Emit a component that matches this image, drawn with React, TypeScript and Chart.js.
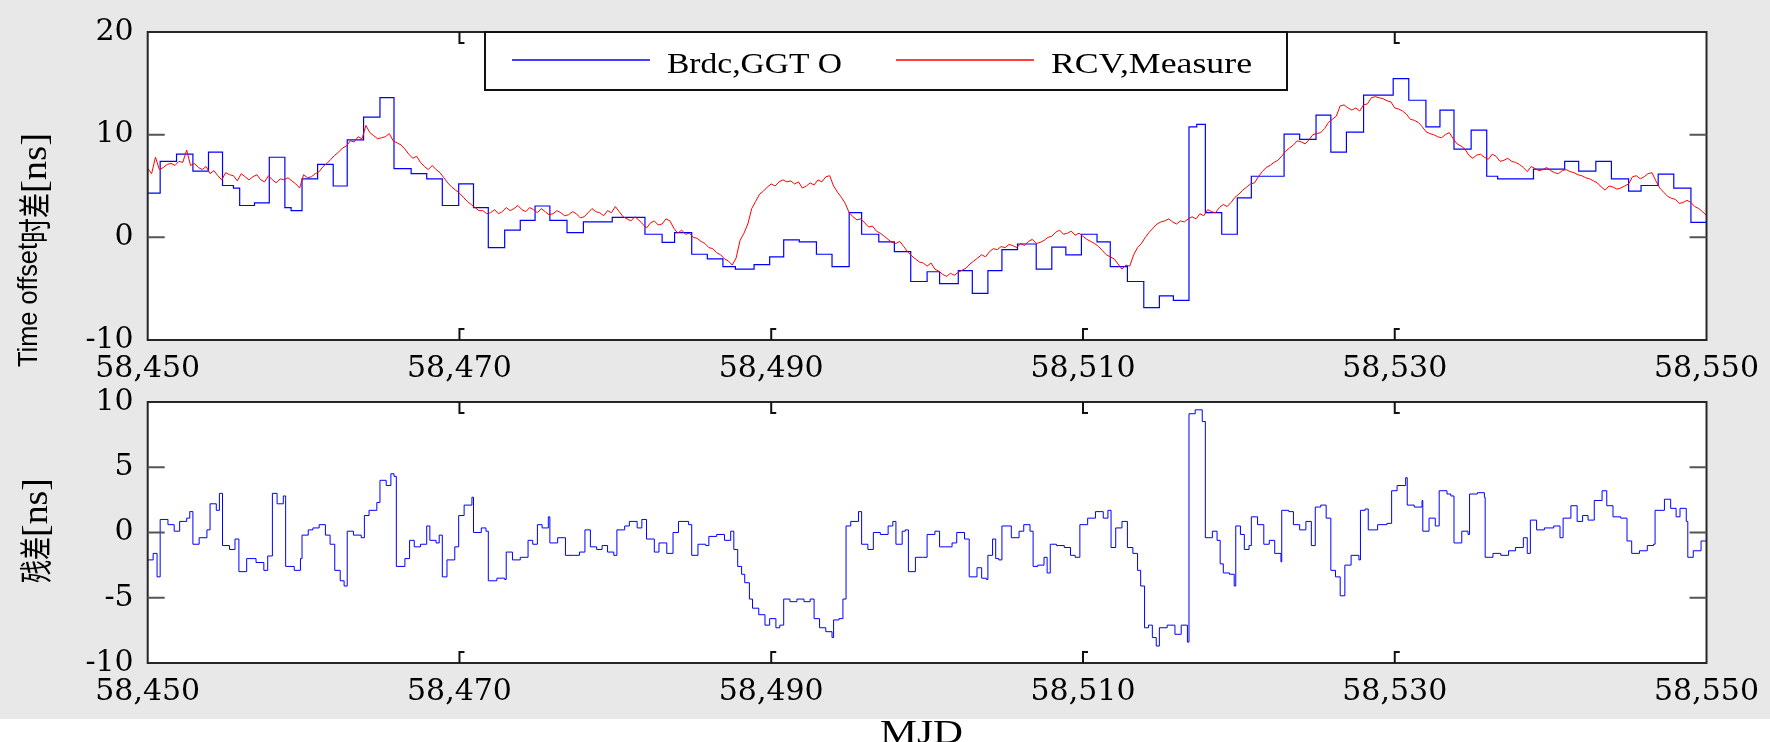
import React, { useEffect, useRef } from "react";
import { Chart, registerables } from "chart.js";

Chart.register(...registerables);

// ---------------- data (MJD offsets from MJD_BASE) ----------------
const MJD_BASE = 58450;
const X_MIN = 58450;
const X_MAX = 58550;
const X_STEP = 20;

const LEGEND_LABELS = ["Brdc,GGT O", "RCV,Measure"];

// Broadcast GGTO (step series): day at which each step starts, and its level [ns]
const BRDC_DAYS = [0, 0.8, 1.85, 2.9, 3.9, 4.8, 5.5, 5.9, 6.85, 7.8, 8.8, 9.2, 9.9, 10.9, 11.9, 12.8, 13.85, 14.9, 15.8, 16.9, 17.9, 18.9, 19.95, 20.9, 21.85, 22.9, 23.9, 24.85, 25.8, 26.9, 27.95, 29.8, 31.9, 33.0, 33.8, 34.9, 35.9, 36.9, 37.7, 38.9, 39.9, 40.8, 41.8, 42.9, 43.9, 45.0, 45.8, 46.9, 47.9, 48.95, 50.0, 50.8, 52.0, 52.9, 53.9, 54.8, 55.8, 57.0, 58.0, 58.9, 59.9, 60.9, 61.75, 62.85, 63.9, 64.9, 65.8, 66.8, 67.3, 67.85, 68.9, 69.9, 70.8, 72.9, 73.9, 74.95, 75.9, 76.9, 78.0, 79.9, 80.9, 82.0, 82.9, 83.8, 84.9, 85.9, 86.6, 88.9, 90.9, 91.8, 92.9, 93.9, 95.0, 95.8, 96.9, 97.9, 99.0, 100];
const BRDC_VALUES = [4.3, 7.4, 8.1, 6.45, 8.3, 5.05, 4.8, 3.1, 3.35, 7.8, 2.9, 2.6, 5.7, 7.1, 5.0, 9.5, 11.7, 13.6, 6.7, 6.2, 5.7, 3.1, 5.2, 2.9, -1.0, 0.7, 1.65, 3.05, 1.65, 0.45, 1.5, 1.95, 0.3, -0.5, 0.45, -1.65, -2.1, -2.85, -3.1, -2.65, -1.9, -0.25, -0.45, -1.65, -2.85, 2.4, 0.3, -0.45, -1.4, -4.3, -3.35, -4.5, -3.25, -5.45, -3.25, -1.2, -0.65, -3.1, -0.95, -1.7, 0.3, -0.45, -2.85, -4.3, -6.85, -5.7, -6.15, 10.75, 11.0, 2.4, 0.3, 3.85, 5.95, 10.05, 9.55, 11.9, 8.3, 10.25, 13.85, 15.45, 13.35, 10.75, 12.4, 8.6, 10.45, 5.95, 5.7, 6.65, 7.4, 6.45, 7.4, 5.7, 4.5, 5.05, 6.15, 4.8, 1.45, 1.45];

// Receiver measurement (RCV,Measure) [ns], quarter-day readings
const RCV_DAYS = [
  0, 0.25, 0.5, 0.75, 1, 1.25, 1.5, 1.75, 2, 2.25, 2.5, 2.75, 3, 3.25, 3.5, 3.75, 4, 4.25, 4.5, 4.75,
  5, 5.25, 5.5, 5.75, 6, 6.25, 6.5, 6.75, 7, 7.25, 7.5, 7.75, 8, 8.25, 8.5, 8.75, 9, 9.25, 9.5, 9.75,
  10, 10.25, 10.5, 10.75, 11, 11.25, 11.5, 11.75, 12, 12.25, 12.5, 12.75, 13, 13.25, 13.5, 13.75, 14, 14.25, 14.5, 14.75,
  15, 15.25, 15.5, 15.75, 16, 16.25, 16.5, 16.75, 17, 17.25, 17.5, 17.75, 18, 18.25, 18.5, 18.75, 19, 19.25, 19.5, 19.75,
  20, 20.25, 20.5, 20.75, 21, 21.25, 21.5, 21.75, 22, 22.25, 22.5, 22.75, 23, 23.25, 23.5, 23.75, 24, 24.25, 24.5, 24.75,
  25, 25.25, 25.5, 25.75, 26, 26.25, 26.5, 26.75, 27, 27.25, 27.5, 27.75, 28, 28.25, 28.5, 28.75, 29, 29.25, 29.5, 29.75,
  30, 30.25, 30.5, 30.75, 31, 31.25, 31.5, 31.75, 32, 32.25, 32.5, 32.75, 33, 33.25, 33.5, 33.75, 34, 34.25, 34.5, 34.75,
  35, 35.25, 35.5, 35.75, 36, 36.25, 36.5, 36.75, 37, 37.25, 37.5, 37.75, 38, 38.25, 38.5, 38.75, 39, 39.25, 39.5, 39.75,
  40, 40.25, 40.5, 40.75, 41, 41.25, 41.5, 41.75, 42, 42.25, 42.5, 42.75, 43, 43.25, 43.5, 43.75, 44, 44.25, 44.5, 44.75,
  45, 45.25, 45.5, 45.75, 46, 46.25, 46.5, 46.75, 47, 47.25, 47.5, 47.75, 48, 48.25, 48.5, 48.75, 49, 49.25, 49.5, 49.75,
  50, 50.25, 50.5, 50.75, 51, 51.25, 51.5, 51.75, 52, 52.25, 52.5, 52.75, 53, 53.25, 53.5, 53.75, 54, 54.25, 54.5, 54.75,
  55, 55.25, 55.5, 55.75, 56, 56.25, 56.5, 56.75, 57, 57.25, 57.5, 57.75, 58, 58.25, 58.5, 58.75, 59, 59.25, 59.5, 59.75,
  60, 60.25, 60.5, 60.75, 61, 61.25, 61.5, 61.75, 62, 62.25, 62.5, 62.75, 63, 63.25, 63.5, 63.75, 64, 64.25, 64.5, 64.75,
  65, 65.25, 65.5, 65.75, 66, 66.25, 66.5, 66.75, 67, 67.25, 67.5, 67.75, 68, 68.25, 68.5, 68.75, 69, 69.25, 69.5, 69.75,
  70, 70.25, 70.5, 70.75, 71, 71.25, 71.5, 71.75, 72, 72.25, 72.5, 72.75, 73, 73.25, 73.5, 73.75, 74, 74.25, 74.5, 74.75,
  75, 75.25, 75.5, 75.75, 76, 76.25, 76.5, 76.75, 77, 77.25, 77.5, 77.75, 78, 78.25, 78.5, 78.75, 79, 79.25, 79.5, 79.75,
  80, 80.25, 80.5, 80.75, 81, 81.25, 81.5, 81.75, 82, 82.25, 82.5, 82.75, 83, 83.25, 83.5, 83.75, 84, 84.25, 84.5, 84.75,
  85, 85.25, 85.5, 85.75, 86, 86.25, 86.5, 86.75, 87, 87.25, 87.5, 87.75, 88, 88.25, 88.5, 88.75, 89, 89.25, 89.5, 89.75,
  90, 90.25, 90.5, 90.75, 91, 91.25, 91.5, 91.75, 92, 92.25, 92.5, 92.75, 93, 93.25, 93.5, 93.75, 94, 94.25, 94.5, 94.75,
  95, 95.25, 95.5, 95.75, 96, 96.25, 96.5, 96.75, 97, 97.25, 97.5, 97.75, 98, 98.25, 98.5, 98.75, 99, 99.25, 99.5, 99.75,
  100,
];
const RCV_VALUES = [
  6.7, 6.2, 7.8, 6.6, 6.8, 7.1, 7.2, 7.0, 7.4, 7.3, 8.5, 7.0, 7.2, 6.8, 6.6, 6.9, 6.2, 6.5, 6.0, 5.6,
  6.3, 6.1, 6.0, 5.5, 6.2, 5.9, 5.6, 5.9, 6.1, 5.6, 5.4, 6.0, 5.6, 5.3, 5.7, 5.6, 5.8, 5.5, 5.2, 4.8,
  6.1, 5.8, 5.9, 6.2, 6.4, 6.9, 7.2, 7.6, 8.0, 8.3, 8.7, 8.9, 9.4, 9.3, 9.8, 9.6, 10.9, 10.2, 9.9, 9.6,
  9.7, 9.8, 10.1, 9.4, 9.2, 9.0, 8.6, 8.1, 7.7, 7.9, 7.3, 6.9, 6.6, 7.0, 6.6, 6.3, 5.8, 5.3, 4.9, 4.6,
  4.3, 3.9, 3.5, 3.2, 2.9, 2.6, 2.6, 2.3, 2.4, 2.7, 2.3, 2.5, 2.9, 2.6, 2.8, 3.1, 2.7, 2.5, 2.9, 2.7,
  2.4, 2.8, 2.5, 2.2, 2.3, 2.6, 2.4, 2.1, 2.2, 2.5, 2.3, 1.9, 2.0, 2.4, 2.8, 2.5, 2.4, 2.1, 2.6, 2.4,
  3.0, 2.5, 2.0, 1.8, 1.6, 2.0, 1.7, 1.3, 0.9, 1.4, 1.6, 1.2, 1.3, 1.8, 1.6, 0.9, 0.4, 0.7, 0.3, 0.4,
  0.0, -0.1, -0.4, -0.6, -1.0, -1.1, -1.5, -1.7, -2.1, -2.3, -2.7, -2.0, -0.3, 0.4, 1.3, 2.8, 3.5, 4.2, 4.5, 4.9,
  5.2, 5.0, 5.4, 5.6, 5.4, 5.5, 5.2, 5.4, 4.8, 5.0, 5.3, 5.1, 5.6, 5.4, 5.9, 6.0, 5.0, 4.4, 3.9, 3.3,
  2.4, 2.0, 1.7, 1.8, 1.4, 1.0, 1.1, 0.6, 0.4, 0.1, -0.2, -0.5, -0.6, -0.4, -0.9, -1.4, -1.8, -2.1, -2.4, -2.5,
  -2.8, -2.5, -3.1, -3.3, -3.6, -3.8, -3.5, -3.7, -3.4, -3.2, -3.0, -2.6, -2.3, -2.0, -1.7, -1.9, -1.4, -1.1, -1.2, -0.9,
  -1.0, -0.7, -0.8, -1.0, -0.6, -0.8, -0.4, -0.2, -0.6, -0.5, -0.3, 0.0, 0.1, 0.5, 0.7, 0.3, 0.4, 0.6, 0.2, 0.4,
  0.1, -0.2, -0.4, -0.6, -0.9, -1.3, -1.7, -1.9, -2.1, -2.6, -3.1, -2.7, -2.8, -1.7, -1.0, -0.6, 0.0, 0.5, 0.9, 1.3,
  1.5, 1.6, 1.8, 1.5, 1.3, 1.6, 1.5, 1.8, 2.0, 1.8, 2.3, 2.1, 2.7, 2.5, 2.4, 2.9, 3.2, 3.0, 3.4, 3.9,
  4.2, 4.6, 4.9, 5.2, 5.3, 5.9, 6.4, 6.8, 7.0, 7.3, 7.5, 7.9, 8.4, 8.7, 9.0, 9.4, 9.3, 9.1, 9.5, 10.0,
  10.1, 10.2, 10.6, 11.2, 11.5, 11.8, 12.8, 12.9, 12.6, 12.4, 12.6, 12.3, 12.9, 13.0, 13.6, 13.7, 13.6, 13.5, 13.3, 13.2,
  12.6, 12.5, 12.3, 12.0, 11.5, 11.4, 11.2, 10.8, 10.3, 10.1, 10.0, 9.8, 9.7, 10.0, 10.2, 9.6, 9.1, 8.9, 8.6, 8.0,
  7.7, 8.0, 8.1, 7.8, 7.6, 8.1, 7.9, 7.4, 7.5, 7.7, 7.4, 7.3, 7.1, 6.8, 6.4, 6.9, 6.7, 6.5, 6.6, 6.8,
  6.5, 6.3, 6.2, 6.5, 6.6, 6.4, 6.3, 6.1, 6.0, 5.8, 5.7, 5.5, 5.3, 4.9, 4.6, 5.0, 4.9, 4.7, 4.8, 5.0,
  5.2, 5.9, 6.0, 5.7, 5.9, 6.2, 6.3, 5.5, 4.8, 4.4, 4.0, 3.8, 3.7, 3.3, 3.4, 3.6, 3.4, 3.0, 2.8, 2.5,
  2.1,
];

// Residual [ns]
const RESID_DAYS = [0, 0.35, 0.6, 0.8, 1.3, 1.7, 2.05, 2.5, 2.7, 2.9, 3.3, 3.8, 4.0, 4.4, 4.6, 4.8, 5.25, 5.6, 5.85, 6.35, 6.95, 7.45, 7.7, 8.0, 8.3, 8.7, 8.85, 9.4, 9.8, 9.9, 10.3, 10.6, 11.0, 11.4, 11.7, 12.0, 12.35, 12.6, 12.8, 13.2, 13.7, 13.9, 14.2, 14.7, 14.9, 15.3, 15.6, 15.8, 15.95, 16.5, 16.8, 17.1, 17.5, 17.9, 18.1, 18.5, 18.7, 18.9, 19.2, 19.7, 19.95, 20.3, 20.8, 20.9, 21.4, 21.7, 21.85, 22.4, 22.9, 23.0, 23.4, 23.9, 24.4, 24.7, 25.0, 25.3, 25.7, 25.8, 26.3, 26.8, 27.3, 27.7, 28.05, 28.4, 28.8, 29.15, 29.5, 29.9, 30.1, 30.6, 30.9, 31.4, 31.7, 32.0, 32.5, 32.8, 33.3, 33.7, 34.05, 34.7, 34.9, 35.3, 35.8, 36.0, 36.5, 37.0, 37.4, 37.6, 37.85, 38.1, 38.3, 38.6, 38.8, 39.2, 39.6, 39.9, 40.3, 40.55, 40.8, 41.2, 41.65, 42.1, 42.5, 42.75, 43.1, 43.5, 43.9, 44.0, 44.35, 44.6, 44.8, 45.1, 45.6, 45.8, 46.2, 46.55, 47.0, 47.5, 47.8, 48.0, 48.4, 48.6, 48.8, 49.25, 49.7, 50.0, 50.5, 50.8, 51.2, 51.6, 51.9, 52.4, 52.7, 53.2, 53.5, 53.8, 53.9, 54.2, 54.4, 54.6, 54.8, 55.4, 55.9, 56.2, 56.6, 56.8, 57.1, 57.5, 57.7, 57.9, 58.3, 58.8, 59.2, 59.5, 59.8, 60.3, 60.8, 61.3, 61.6, 61.8, 62.1, 62.5, 62.85, 63.2, 63.5, 63.7, 63.95, 64.2, 64.45, 64.7, 64.9, 65.4, 65.9, 66.3, 66.7, 66.8, 67.2, 67.65, 67.85, 68.3, 68.6, 68.8, 69.0, 69.4, 69.7, 69.8, 70.1, 70.35, 70.65, 70.8, 71.2, 71.6, 71.95, 72.3, 72.7, 72.75, 73.2, 73.5, 73.9, 74.3, 74.65, 74.9, 75.25, 75.6, 75.9, 76.2, 76.5, 76.8, 77.2, 77.7, 77.8, 78.1, 78.3, 78.9, 79.5, 79.8, 80.15, 80.7, 80.8, 81.25, 81.75, 81.8, 82.2, 82.6, 82.85, 83.35, 83.6, 83.8, 84.3, 84.7, 84.8, 85.3, 85.75, 85.8, 86.3, 86.8, 87.3, 87.75, 88.25, 88.5, 88.7, 89.1, 89.6, 90.2, 90.6, 90.8, 91.3, 91.7, 92.05, 92.4, 92.8, 93.3, 93.6, 94.0, 94.5, 94.9, 95.2, 95.7, 96.2, 96.6, 96.7, 97.3, 97.7, 98.05, 98.3, 98.7, 98.8, 99.15, 99.65, 100];
const RESID_VALUES = [-2.1, -1.6, -3.4, 1.0, 0.6, 0.1, 0.85, 1.1, 1.6, -0.9, -0.4, 0.2, 2.2, 1.7, 3.0, -1.0, -1.3, -0.5, -3.0, -2.0, -2.3, -2.9, -1.8, 3.0, 2.2, 2.8, -2.6, -2.9, -2.0, -0.2, 0.2, 0.35, 0.6, -0.2, -0.9, -2.9, -3.7, -4.1, 0.1, -0.2, -0.4, 1.3, 1.7, 2.3, 4.0, 3.6, 4.5, 4.3, -2.6, -2.0, -0.6, -1.1, -0.9, 0.5, -0.6, -0.8, -0.2, -3.4, -2.1, -1.1, 1.3, 2.1, 2.7, 0.0, 0.35, 0.1, -3.7, -3.5, -3.6, -1.5, -2.1, -1.9, -0.6, -0.9, 0.6, 0.35, 1.2, -0.8, -0.4, -1.75, -1.75, -1.5, 0.2, -1.1, -1.3, -1.0, -1.5, -1.75, 0.2, 0.5, 0.85, 0.35, 1.0, -0.5, -1.5, -0.8, -1.6, 0.0, 0.85, 0.6, -1.75, -0.9, -1.0, -0.3, -0.15, -0.6, 0.1, -1.3, -2.6, -3.2, -3.85, -5.1, -5.8, -6.3, -7.1, -6.6, -7.3, -7.1, -5.1, -5.3, -5.1, -5.3, -5.1, -6.6, -7.3, -7.6, -8.05, -6.7, -6.6, -5.1, 0.5, 0.85, 1.6, -0.9, -1.3, 0.0, -0.15, 0.5, 0.85, -0.9, 0.1, 0.2, -3.0, -1.9, -1.9, -0.15, 0.1, -1.1, -1.1, -0.8, 0.0, -0.5, -3.4, -2.7, -3.5, -3.6, -1.75, -0.5, -2.0, -2.1, 0.5, -0.4, 0.1, 0.6, 0.1, -2.6, -2.5, -1.9, -3.1, -0.9, -1.0, -1.15, -1.75, -1.9, 0.6, 1.1, 1.6, 1.1, 1.7, -1.15, 0.35, 0.85, -1.15, -1.6, -2.9, -4.1, -7.3, -7.1, -8.05, -8.7, -7.3, -7.1, -7.8, -7.1, -8.4, 9.1, 9.4, 8.5, -0.4, 0.1, -0.6, -2.4, -3.1, -3.2, -4.1, 0.5, -0.15, -1.3, -1.0, 1.2, 0.6, -0.9, -0.6, -1.6, -2.25, 1.7, 1.6, 0.6, 0.2, 0.85, -1.0, 1.95, 2.1, 1.1, -2.9, -3.4, -4.85, -2.5, -1.75, -2.1, 1.7, 1.8, 0.2, 0.6, 0.7, 3.2, 3.6, 4.2, 2.1, 1.95, 2.45, 0.1, 1.1, 0.5, 3.2, 2.95, 2.8, -0.8, 0.1, -0.15, 2.95, 3.05, 2.7, -1.9, -1.6, -1.75, -1.4, -1.15, -0.4, -1.6, 0.95, 0.2, 0.35, 0.5, -0.4, 1.1, 2.05, 0.85, 1.3, 0.95, 2.45, 3.2, 2.05, 1.2, 1.1, -0.65, -1.6, -1.4, -1.0, -0.9, 1.7, 2.55, 1.85, 1.2, 1.85, 0.85, -1.9, -1.4, -0.65, -0.6];

// ---------------- helpers ----------------
const toXY = (days: number[], vals: number[]) =>
  days.map((d, i) => ({ x: MJD_BASE + d, y: vals[i] }));

const TICK_FONT = { family: "'DejaVu Serif', serif", size: 30 };

function drawFit(
  ctx: CanvasRenderingContext2D,
  text: string,
  font: string,
  x: number,
  y: number,
  width: number,
  rotate = false
) {
  ctx.save();
  ctx.font = font;
  ctx.textAlign = "left";
  ctx.textBaseline = "alphabetic";
  ctx.fillStyle = "#000";
  const w = ctx.measureText(text).width || 1;
  ctx.translate(x, y);
  if (rotate) ctx.rotate(-Math.PI / 2);
  ctx.scale(width / w, 1);
  ctx.fillText(text, 0, 0);
  ctx.restore();
}

const framePlugin = {
  id: "frame",
  beforeDatasetsDraw(chart: any) {
    const { ctx, chartArea } = chart;
    ctx.save();
    ctx.fillStyle = "#ffffff";
    ctx.fillRect(chartArea.left, chartArea.top, chartArea.right - chartArea.left, chartArea.bottom - chartArea.top);
    ctx.restore();
  },
  afterDatasetsDraw(chart: any) {
    const { ctx, chartArea } = chart;
    const { left, right, top, bottom } = chartArea;
    ctx.save();
    ctx.lineWidth = 2;
    ctx.strokeStyle = "#262626";
    ctx.strokeRect(left, top, right - left, bottom - top);
    const xs = chart.scales.x;
    ctx.strokeStyle = "#111";
    xs.ticks.forEach((t: any) => {
      const px = xs.getPixelForValue(t.value);
      if (px - left < 3 || right - px < 3) return;
      ctx.beginPath();
      ctx.moveTo(px, top);
      ctx.lineTo(px, top + 11);
      ctx.lineTo(px + 5, top + 11);
      ctx.moveTo(px, bottom);
      ctx.lineTo(px, bottom - 11);
      ctx.lineTo(px + 5, bottom - 11);
      ctx.stroke();
    });
    const ys = chart.scales.y;
    ctx.strokeStyle = "#555";
    ys.ticks.forEach((t: any) => {
      const py = ys.getPixelForValue(t.value);
      if (py - top < 3 || bottom - py < 3) return;
      ctx.beginPath();
      ctx.moveTo(left, py);
      ctx.lineTo(left + 17, py);
      ctx.moveTo(right, py);
      ctx.lineTo(right - 17, py);
      ctx.stroke();
    });
    ctx.restore();
  },
};

const legendPlugin = {
  id: "boxLegend",
  afterDraw(chart: any) {
    const { ctx } = chart;
    const box = { x0: 485, y0: 32, x1: 1287, y1: 90 };
    const items = [
      { lx0: 512, lx1: 650, tx: 667, tw: 175 },
      { lx0: 896, lx1: 1034, tx: 1051, tw: 201 },
    ];
    ctx.save();
    ctx.fillStyle = "#fff";
    ctx.fillRect(box.x0, box.y0, box.x1 - box.x0, box.y1 - box.y0);
    ctx.lineWidth = 2;
    ctx.strokeStyle = "#111";
    ctx.strokeRect(box.x0, box.y0, box.x1 - box.x0, box.y1 - box.y0);
    chart.data.datasets.forEach((ds: any, i: number) => {
      const it = items[i];
      if (!it) return;
      ctx.strokeStyle = ds.borderColor;
      ctx.lineWidth = 1.3;
      ctx.beginPath();
      ctx.moveTo(it.lx0, 60);
      ctx.lineTo(it.lx1, 60);
      ctx.stroke();
      drawFit(ctx, ds.label, "30px 'Liberation Serif'", it.tx, 73, it.tw);
    });
    ctx.restore();
  },
};

const topTitlePlugin = {
  id: "topTitle",
  afterDraw(chart: any) {
    const { ctx } = chart;
    drawFit(ctx, "Time offset", "28px 'Liberation Sans'", 37, 367, 124, true);
    drawFit(ctx, "时差", "33px 'Noto Sans CJK SC'", 47, 243, 50, true);
    drawFit(ctx, "[ns]", "36px 'Liberation Serif'", 46, 193, 60, true);
  },
};

const bottomTitlePlugin = {
  id: "bottomTitle",
  afterDraw(chart: any) {
    const { ctx } = chart;
    // canvas top is at page y = 370
    drawFit(ctx, "残差", "33px 'Noto Sans CJK SC'", 48, 583 - 370, 46, true);
    drawFit(ctx, "[ns]", "36px 'Liberation Serif'", 47, 537 - 370, 59, true);
    drawFit(ctx, "MJD", "34px 'Liberation Serif'", 880, 743 - 370, 83);
  },
};

function makeConfig(
  datasets: any[],
  yMin: number,
  yMax: number,
  yStep: number,
  padTop: number,
  padRight: number,
  xHeight: number,
  plugins: any[]
) {
  return {
    type: "line",
    data: { datasets },
    options: {
      responsive: false,
      animation: false,
      events: [],
      layout: { padding: { left: 0, top: padTop, right: padRight, bottom: 0 } },
      plugins: { legend: { display: false }, tooltip: { enabled: false } },
      elements: { point: { radius: 0 }, line: { tension: 0 } },
      scales: {
        x: {
          type: "linear",
          min: X_MIN,
          max: X_MAX,
          grid: { display: false, drawTicks: false },
          border: { display: false },
          ticks: {
            stepSize: X_STEP,
            autoSkip: false,
            maxRotation: 0,
            minRotation: 0,
            padding: 11,
            color: "#000",
            font: TICK_FONT,
            callback: (v: number) => Number(v).toLocaleString("en-US"),
          },
          afterFit: (s: any) => {
            s.height = xHeight;
          },
        },
        y: {
          min: yMin,
          max: yMax,
          grid: { display: false, drawTicks: false },
          border: { display: false },
          ticks: { stepSize: yStep, padding: 14, color: "#000", font: TICK_FONT },
          afterFit: (s: any) => {
            s.width = 147.7;
          },
        },
      },
    },
    plugins,
  };
}

function ChartCanvas({ config, width, height, top }: any) {
  const ref = useRef<HTMLCanvasElement | null>(null);
  useEffect(() => {
    if (!ref.current) return;
    const chart = new Chart(ref.current, config());
    return () => chart.destroy();
  }, []);
  return (
    <canvas
      ref={ref}
      width={width}
      height={height}
      style={{ position: "absolute", left: 0, top, width, height, display: "block" }}
    />
  );
}

export default function App() {
  const topConfig = () =>
    makeConfig(
      [
        {
          label: LEGEND_LABELS[0],
          data: toXY(BRDC_DAYS, BRDC_VALUES),
          borderColor: "#0000ff",
          borderWidth: 1.2,
          stepped: true,
          order: 2,
        },
        {
          label: LEGEND_LABELS[1],
          data: toXY(RCV_DAYS, RCV_VALUES),
          borderColor: "#ff0000",
          borderWidth: 1,
          order: 1,
        },
      ],
      -10,
      20,
      10,
      22,
      1770 - 1709.7,
      390 - 340,
      [framePlugin, legendPlugin, topTitlePlugin]
    );

  const bottomConfig = () =>
    makeConfig(
      [
        {
          label: "残差",
          data: toXY(RESID_DAYS, RESID_VALUES),
          borderColor: "#0000ff",
          borderWidth: 1,
          stepped: true,
        },
      ],
      -10,
      10,
      5,
      393 - 370,
      1770 - 1706.7,
      372 - (663 - 370),
      [framePlugin, bottomTitlePlugin]
    );

  return (
    <div
      style={{
        position: "absolute",
        left: 0,
        top: 0,
        width: 1770,
        height: 742,
        overflow: "hidden",
        background: "linear-gradient(#e8e8e8 0px, #e8e8e8 719px, #ffffff 719px)",
      }}
    >
      <ChartCanvas config={topConfig} width={1770} height={390} top={0} />
      <ChartCanvas config={bottomConfig} width={1770} height={372} top={370} />
    </div>
  );
}
